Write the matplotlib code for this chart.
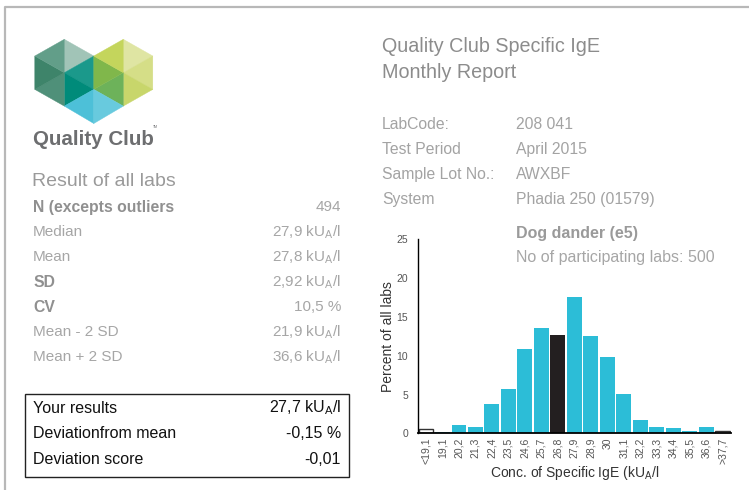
import numpy as np
import matplotlib.pyplot as plt
from matplotlib.patches import Polygon, Rectangle

plt.rcParams['font.family'] = ['Liberation Sans', 'DejaVu Sans']
plt.rcParams['mathtext.default'] = 'regular'

W, H = 749, 490

# histogram data
bin_labels = ['<19,1', '19,1', '20,2', '21,3', '22,4', '23,5', '24,6', '25,7', '26,8', '27,9',
              '28,9', '30', '31,1', '32,2', '33,3', '34,4', '35,5', '36,6', '>37,7']
percent = [0.6, 0.2, 1.1, 0.8, 3.8, 5.7, 10.9, 13.6, 12.7, 17.6,
           12.5, 9.8, 5.1, 1.7, 0.8, 0.7, 0.3, 0.8, 0.3]
# 'o' = outlier bin, 'n' = normal, 'y' = your lab
kind = ['o', 'n', 'n', 'n', 'n', 'n', 'n', 'n', 'y', 'n',
        'n', 'n', 'n', 'n', 'n', 'n', 'n', 'n', 'o']

stat_labels = ['N (excepts outliers', 'Median', 'Mean', 'SD', 'CV', 'Mean - 2 SD', 'Mean + 2 SD']
stat_values = ['494', r'27,9 kU$_A$/l', r'27,8 kU$_A$/l', r'2,92 kU$_A$/l', '10,5 %',
               r'21,9 kU$_A$/l', r'36,6 kU$_A$/l']
stat_bold = [True, False, False, True, True, False, False]

result_labels = ['Your results', 'Deviationfrom mean', 'Deviation score']
result_values = [r'27,7 kU$_A$/l', '-0,15 %', '-0,01']

info_labels = ['LabCode:', 'Test Period', 'Sample Lot No.:', 'System']
info_values = ['208 041', 'April 2015', 'AWXBF', 'Phadia 250 (01579)']

fig = plt.figure(figsize=(W / 100, H / 100), dpi=100)
bg = fig.add_axes([0, 0, 1, 1])
bg.set_xlim(0, W)
bg.set_ylim(H, 0)
bg.axis('off')

# page border
bg.plot([5, 5, W + 5], [H + 5, 7, 7], color='#b8b8b8', lw=1.6, solid_capstyle='butt')

# logo: two hexagons of triangles plus a cyan diamond below
def hexagon(cx, cy, w=29.5, r=33.4):
    return [(cx, cy - r), (cx + w, cy - r / 2), (cx + w, cy + r / 2),
            (cx, cy + r), (cx - w, cy + r / 2), (cx - w, cy - r / 2)]

left_cols = ['#a1c4b7', '#1b998b', '#008b7a', '#4f9079', '#3e846a', '#629e89']
right_cols = ['#dfe5a3', '#d5de87', '#c8d66b', '#6db25a', '#80b74b', '#c4d55c']
for (cx, cy), cols in [((64.3, 72.7), left_cols), ((123.3, 72.7), right_cols)]:
    v = hexagon(cx, cy)
    for k in range(6):
        bg.add_patch(Polygon([(cx, cy), v[k], v[(k + 1) % 6]], closed=True,
                             facecolor=cols[k], edgecolor=cols[k], lw=0.3))
mid = (93.8, 89.4)
bot = (93.8, 123.5)
bg.add_patch(Polygon([(64.3, 106.1), mid, bot], facecolor='#4dc0d8', edgecolor='#4dc0d8', lw=0.3))
bg.add_patch(Polygon([mid, (123.3, 106.1), bot], facecolor='#68cade', edgecolor='#68cade', lw=0.3))

bg.text(33, 139, 'Quality Club', fontsize=14.8, fontweight='bold', color='#6d6e70',
        va='center', ha='left')
bg.text(153, 127, 'TM', fontsize=2.5, color='#6d6e70', va='center', ha='left')

bg.text(32, 181, 'Result of all labs', fontsize=14, color='#9a9a9a', va='center')

for i, (lab, val, b) in enumerate(zip(stat_labels, stat_values, stat_bold)):
    y = 207 + 25 * i
    bg.text(33, y, lab, fontsize=11.3 if b else 11, color='#909090' if b else '#a6a6a6',
            fontweight='bold' if b else 'normal', va='center')
    bg.text(341, y, val, fontsize=11, color='#a6a6a6', va='center', ha='right')

bg.add_patch(Rectangle((25, 394), 324, 83, facecolor='none', edgecolor='#222222', lw=1.0))
for i, (lab, val) in enumerate(zip(result_labels, result_values)):
    y = 408 + 25.5 * i
    bg.text(33, y, lab, fontsize=11.5, color='#111111', va='center')
    bg.text(341, y, val, fontsize=11.5, color='#111111', va='center', ha='right')

bg.text(382, 47, 'Quality Club Specific IgE', fontsize=14.2, color='#8c8c8c', va='center')
bg.text(382, 73, 'Monthly Report', fontsize=14.2, color='#8c8c8c', va='center')
for i, (lab, val) in enumerate(zip(info_labels, info_values)):
    y = 124 + 25 * i
    bg.text(382, y, lab, fontsize=11.3, color='#a3a3a3', va='center')
    bg.text(516, y, val, fontsize=11.3, color='#a3a3a3', va='center')

bg.text(516, 233, 'Dog dander (e5)', fontsize=11.5, fontweight='bold', color='#9a9a9a', va='center')
bg.text(516, 257, 'No of participating labs: 500', fontsize=11.5, color='#a6a6a6', va='center')

# histogram
ax = fig.add_axes([417.7 / W, 1 - 433.3 / H, 313.3 / W, 194 / H])
ax.patch.set_alpha(0)
x = np.arange(len(percent))
face = {'o': 'white', 'n': '#2cbdd7', 'y': '#231f20'}
edge = {'o': '#333333', 'n': '#2cbdd7', 'y': '#231f20'}
ax.bar(x, percent, width=0.9,
       color=[face[k] for k in kind], edgecolor=[edge[k] for k in kind],
       linewidth=[1.0 if k == 'o' else 0 for k in kind], zorder=2)
ax.set_xlim(-0.5, len(percent) - 0.5)
ax.set_ylim(0, 25)
ax.set_yticks([0, 5, 10, 15, 20, 25])
ax.set_xticks(x)
ax.set_xticklabels(bin_labels, rotation=90)
ax.tick_params(axis='both', length=0, labelsize=7.5, labelcolor='#555555')
ax.tick_params(axis='y', pad=7)
ax.tick_params(axis='x', pad=3)
for s in ['top', 'right']:
    ax.spines[s].set_visible(False)
ax.spines['left'].set_linewidth(1.0)
ax.spines['bottom'].set_linewidth(1.3)
ax.set_ylabel('Percent of all labs', fontsize=10, color='#333333', labelpad=1)
ax.set_xlabel('Conc. of Specific IgE (kU$_A$/l', fontsize=10, color='#333333', labelpad=0)

fig.savefig('out.png', dpi=100)
